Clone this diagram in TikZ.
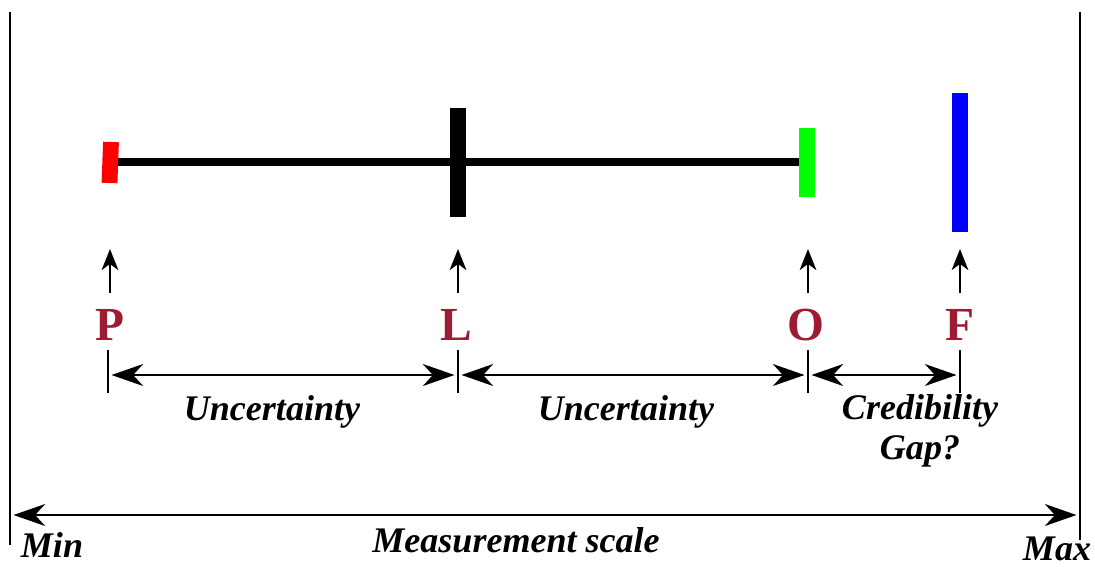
\documentclass[tikz,border=0pt]{standalone}
\usepackage{fontspec}
\setmainfont{Liberation Serif}
\usepackage{xcolor}
\usetikzlibrary{positioning, arrows.meta, calc}
\definecolor{lettermaroon}{RGB}{158,27,52}
\tikzset{
  scalebar/.style={
    line width=9pt
  },
  scaleline/.style={
    line width=4pt
  },
  pointletter/.style={
    font=\fontsize{27}{30}\selectfont\bfseries,
    text=lettermaroon,
    inner sep=0pt
  },
  rangelabel/.style={
    font=\fontsize{20.5}{23}\selectfont\bfseries\itshape,
    align=center,
    inner sep=0pt
  },
  pointarrow/.style={
    -{Stealth[length=12pt, width=9.5pt, inset=3.5pt]},
    line width=1.1pt
  },
  rangearrow/.style={
    {Stealth[length=18pt, width=12.5pt, inset=5.7pt]}-{Stealth[length=18pt, width=12.5pt, inset=5.7pt]},
    line width=1.1pt,
    shorten >=2pt,
    shorten <=2pt
  },
  fullarrow/.style={
    {Stealth[length=18pt, width=12.5pt, inset=5.7pt]}-{Stealth[length=18pt, width=12.5pt, inset=5.7pt]},
    line width=1.1pt,
    shorten >=2pt,
    shorten <=2pt
  },
  tickline/.style={
    line width=1.1pt
  }
}

\begin{document}
\begin{tikzpicture}[x=0.02cm, y=-0.02cm]
  \useasboundingbox (0,0) rectangle (1095,566);

  % scale ends
  \coordinate (minTop) at (10,12);
  \coordinate (minBot) at (10,545);
  \coordinate (maxTop) at (1080,12);
  \coordinate (maxBot) at (1080,540);
  \draw[tickline] (minTop) -- (minBot);
  \draw[tickline] (maxTop) -- (maxBot);

  % line and bars
  \draw[scaleline] (116,162) -- (799,162);
  \draw[scalebar, red] (111,142) -- (109.5,183);
  \draw[scalebar, black] (458,108) -- (458,217);
  \draw[scalebar, green] (807,128) -- (807,197);
  \draw[scalebar, blue] (960,93) -- (960,232);

  % letters
  \node[pointletter] (P) at (110,325) {P};
  \node[pointletter] (L) at (456,325) {L};
  \node[pointletter] (O) at (806,325) {O};
  \node[pointletter] (F) at (960,325) {F};

  \coordinate (Ptip) at (110,249);
  \coordinate (Ltip) at (458,249);
  \coordinate (Otip) at (808,249);
  \coordinate (Ftip) at (960,249);
  \draw[pointarrow] (110,293) -- (Ptip);
  \draw[pointarrow] (458,293) -- (Ltip);
  \draw[pointarrow] (808,293) -- (Otip);
  \draw[pointarrow] (960,293) -- (Ftip);

  % ranges
  \foreach \nm/\xx in {P/108, L/458, O/808, F/960} {
    \coordinate (\nm top) at (\xx,350);
    \coordinate (\nm bot) at (\xx,393);
    \coordinate (\nm mid) at (\xx,375);
    \draw[tickline] (\nm top) -- (\nm bot);
  }
  \draw[rangearrow] (Pmid) -- (Lmid);
  \draw[rangearrow] (Lmid) -- (Omid);
  \draw[rangearrow] (Omid) -- (Fmid);

  \node[rangelabel] (unc1) at (272,412) {Uncertainty};
  \node[rangelabel] (unc2) at (626,412) {Uncertainty};
  \node[rangelabel] (gap) at (920,431) {Credibility\\Gap?};

  % measurement scale
  \coordinate (minMid) at (10,515);
  \coordinate (maxMid) at (1080,515);
  \draw[fullarrow] (minMid) -- (maxMid);
  \node[rangelabel, anchor=base] (min) at (52,557) {Min};
  \node[rangelabel] (meas) at (516,540) {Measurement scale};
  \node[rangelabel, anchor=base] (max) at (1057,560) {Max};
\end{tikzpicture}
\end{document}
